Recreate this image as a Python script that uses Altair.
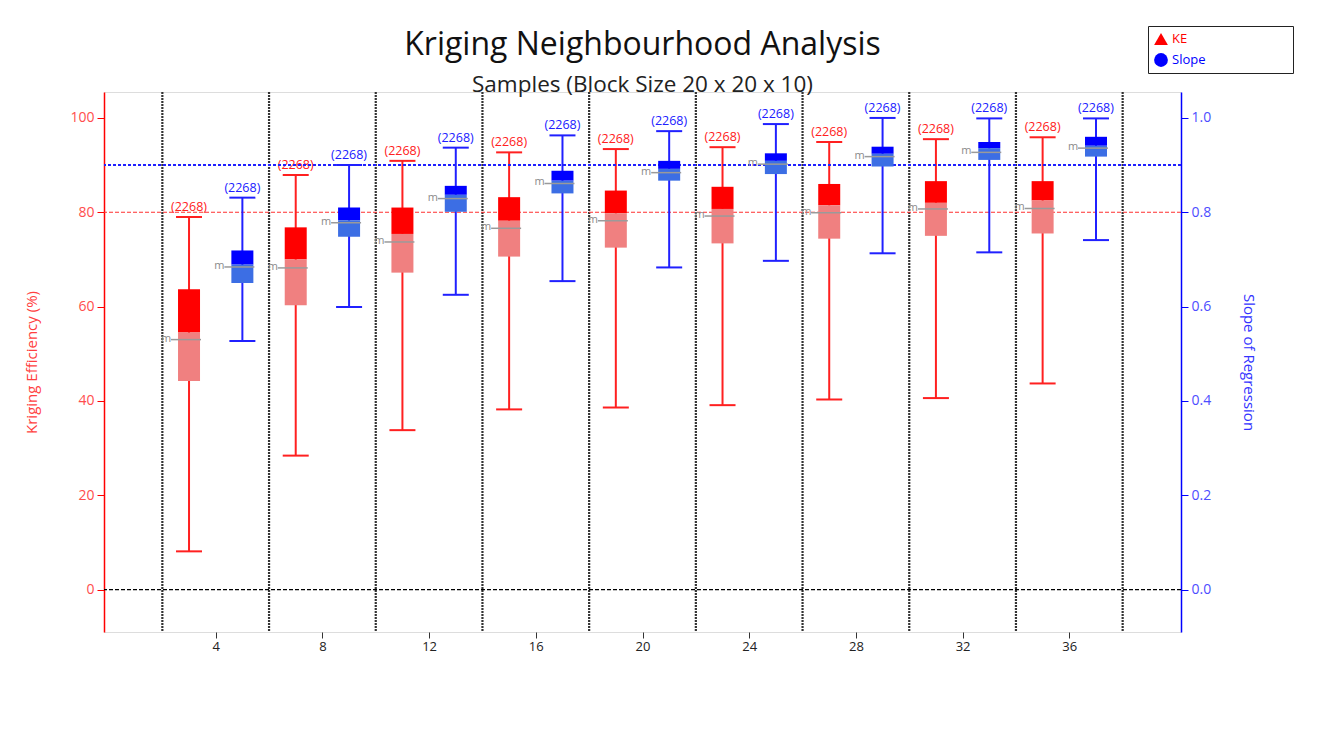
import altair as alt
import pandas as pd

# ---- data ----
positions = [4, 8, 12, 16, 20, 24, 28, 32, 36]
separators = [2, 6, 10, 14, 18, 22, 26, 30, 34, 38]
counts = [2268] * 9

ke_max = [79.0, 87.9, 90.9, 92.7, 93.4, 93.8, 94.9, 95.5, 95.9]
ke_q3 = [63.7, 76.8, 81.0, 83.2, 84.6, 85.4, 86.0, 86.6, 86.6]
ke_med = [54.5, 70.0, 75.4, 78.2, 79.8, 80.7, 81.5, 82.0, 82.5]
ke_mean = [53.0, 68.2, 73.7, 76.6, 78.2, 79.2, 79.9, 80.7, 80.8]
ke_q1 = [44.2, 60.3, 67.2, 70.6, 72.5, 73.4, 74.4, 75.0, 75.5]
ke_min = [8.1, 28.4, 33.8, 38.2, 38.6, 39.1, 40.3, 40.6, 43.7]

sl_max = [0.831, 0.900, 0.937, 0.963, 0.972, 0.987, 1.000, 0.999, 0.999]
sl_q3 = [0.719, 0.810, 0.856, 0.888, 0.909, 0.925, 0.939, 0.949, 0.960]
sl_med = [0.689, 0.783, 0.837, 0.867, 0.892, 0.909, 0.924, 0.936, 0.941]
sl_mean = [0.684, 0.778, 0.829, 0.861, 0.884, 0.902, 0.918, 0.927, 0.936]
sl_q1 = [0.650, 0.748, 0.801, 0.840, 0.867, 0.881, 0.897, 0.911, 0.918]
sl_min = [0.527, 0.599, 0.625, 0.654, 0.683, 0.697, 0.713, 0.715, 0.741]

ke_target = [0, 80]
slope_target = [0.9]

FONT = "Open Sans"
PAD = chr(160) * 24 + chr(0x200B)

ke_df = pd.DataFrame(dict(pos=positions, mx=ke_max, q3=ke_q3, med=ke_med,
                          mean=ke_mean, q1=ke_q1, mn=ke_min, n=counts))
sl_df = pd.DataFrame(dict(pos=positions, mx=sl_max, q3=sl_q3, med=sl_med,
                          mean=sl_mean, q1=sl_q1, mn=sl_min, n=counts))
sep_df = pd.DataFrame(dict(sep=separators))
ke_ref = pd.DataFrame(dict(v=ke_target, kind=["zero", "ke"]))
sl_ref = pd.DataFrame(dict(v=slope_target))
legend_df = pd.DataFrame(dict(series=["KE", "Slope"]))

xscale = alt.Scale(domain=[0, 40], nice=False, zero=False)
xaxis = alt.Axis(values=positions, domain=False, grid=False, title=None,
                 tickColor="#333333", tickSize=6, labelColor="#222222",
                 labelFontSize=13, labelFont=FONT)

ke_scale = alt.Scale(domain=[-9, 105.5], nice=False, zero=False)
sl_scale = alt.Scale(domain=[-0.09, 1.055], nice=False, zero=False)

ke_axis = alt.Axis(orient="left", values=[0, 20, 40, 60, 80, 100], grid=False,
                   title="Kriging Efficiency (%)", titleColor="#ff4040",
                   titleFontSize=15, titleFontWeight="normal", titleFont=FONT,
                   titlePadding=30, domainColor="#ff0000", domainWidth=1.5,
                   tickColor="#ff0000", tickSize=7, labelColor="#ff4d4d",
                   labelFontSize=14, labelFont=FONT, labelPadding=3)
sl_axis = alt.Axis(orient="right", values=[0, 0.2, 0.4, 0.6, 0.8, 1.0], format=".1f",
                   grid=False, title="Slope of Regression", titleColor="#3333ff",
                   titleFontSize=15, titleFontWeight="normal", titleFont=FONT,
                   titlePadding=30, domainColor="#0000ff", domainWidth=1.5,
                   tickColor="#0000ff", tickSize=7, labelColor="#4d4dff",
                   labelFontSize=14, labelFont=FONT, labelPadding=3)


def X(field):
    return alt.X(field, type="quantitative", scale=xscale, axis=xaxis)


def series_layers(df, offset, scale, axis, dark, light, line):
    base = alt.Chart(df).transform_calculate(
        xp=f"datum.pos + ({offset})",
        lab="'(' + datum.n + ')'"
    )

    def Y(field):
        return alt.Y(field, type="quantitative", scale=scale, axis=axis)

    whisker = base.mark_rule(color=line, strokeWidth=2).encode(
        x=X("xp"), y=Y("mn"), y2="mx")
    cap_top = base.mark_tick(orient="horizontal", size=26, thickness=2,
                             color=line, opacity=1).encode(x=X("xp"), y=Y("mx"))
    cap_bot = base.mark_tick(orient="horizontal", size=26, thickness=2,
                             color=line, opacity=1).encode(x=X("xp"), y=Y("mn"))
    upper = base.mark_bar(size=22, color=dark).encode(x=X("xp"), y=Y("med"), y2="q3")
    lower = base.mark_bar(size=22, color=light).encode(x=X("xp"), y=Y("q1"), y2="med")
    mean_tick = base.mark_tick(orient="horizontal", size=30, thickness=1.5,
                               color="#9a9a9a", opacity=1, xOffset=-3).encode(
        x=X("xp"), y=Y("mean"))
    mean_txt = base.mark_text(text="m", dx=-23, dy=-1, color="#8a8a8a",
                              fontSize=11, font=FONT).encode(x=X("xp"), y=Y("mean"))
    count_txt = base.mark_text(dy=-10, color=line, fontSize=12.5, font=FONT).encode(
        x=X("xp"), y=Y("mx"), text="lab:N")
    return [whisker, cap_top, cap_bot, upper, lower, mean_tick, mean_txt, count_txt]


sep_rules = alt.Chart(sep_df).mark_rule(color="#333333", strokeWidth=2.2,
                                        strokeDash=[2, 1]).encode(x=X("sep"))

ke_ref_rules = alt.Chart(ke_ref).mark_rule(strokeWidth=1.2, strokeDash=[4, 2]).encode(
    y=alt.Y("v", type="quantitative", scale=ke_scale, axis=ke_axis),
    color=alt.Color("kind:N", scale=alt.Scale(domain=["zero", "ke"],
                                              range=["#000000", "#ff3030"]), legend=None))

sl_ref_rule = alt.Chart(sl_ref).mark_rule(color="#2020ff", strokeWidth=2,
                                          strokeDash=[3, 2]).encode(
    y=alt.Y("v", type="quantitative", scale=sl_scale, axis=sl_axis))

legend_layer = alt.Chart(legend_df).mark_point(filled=True, opacity=0).encode(
    color=alt.Color("series:N", scale=alt.Scale(domain=["KE", "Slope"],
                                                range=["#ff0000", "#0000ff"]),
                    legend=alt.Legend(
                        orient="none", legendX=1044, legendY=-66, title=None,
                        strokeColor="#222222", fillColor="#ffffff", padding=6,
                        symbolOpacity=1, symbolSize=190, symbolStrokeWidth=0,
                        labelFontSize=13, labelFont=FONT, rowPadding=7, labelLimit=300,
                        labelColor=alt.ExprRef("datum.value == 'KE' ? '#ff0000' : '#0000ff'"),
                        labelExpr="datum.label + '" + PAD + "'")),
    shape=alt.Shape("series:N", scale=alt.Scale(domain=["KE", "Slope"],
                                                range=["triangle-up", "circle"]),
                    legend=None),
)

ke_group = alt.layer(
    ke_ref_rules,
    *series_layers(ke_df, -1, ke_scale, ke_axis, "#ff0000", "#f08080", "#ff2020"),
)
sl_group = alt.layer(
    sl_ref_rule,
    *series_layers(sl_df, 1, sl_scale, sl_axis, "#0000ff", "#3c6ee4", "#2020ff"),
)

chart = alt.layer(sep_rules, ke_group, sl_group, legend_layer).resolve_scale(
    y="independent", color="independent", shape="independent"
).properties(
    width=1077, height=540,
    autosize=alt.AutoSizeParams(type="none"),
    padding={"left": 96, "top": 84, "right": 150, "bottom": 90},
    title=alt.Title("Kriging Neighbourhood Analysis",
                    subtitle="Samples (Block Size 20 x 20 x 10)",
                    fontSize=32, subtitleFontSize=22.5, font=FONT, subtitleFont=FONT,
                    fontWeight="normal", color="#111111", subtitleColor="#222222",
                    anchor="middle", offset=-72, subtitlePadding=12),
).configure_view(stroke=None).configure(background="white")

chart.save("out.html", embed_options={"renderer": "svg", "actions": False})
